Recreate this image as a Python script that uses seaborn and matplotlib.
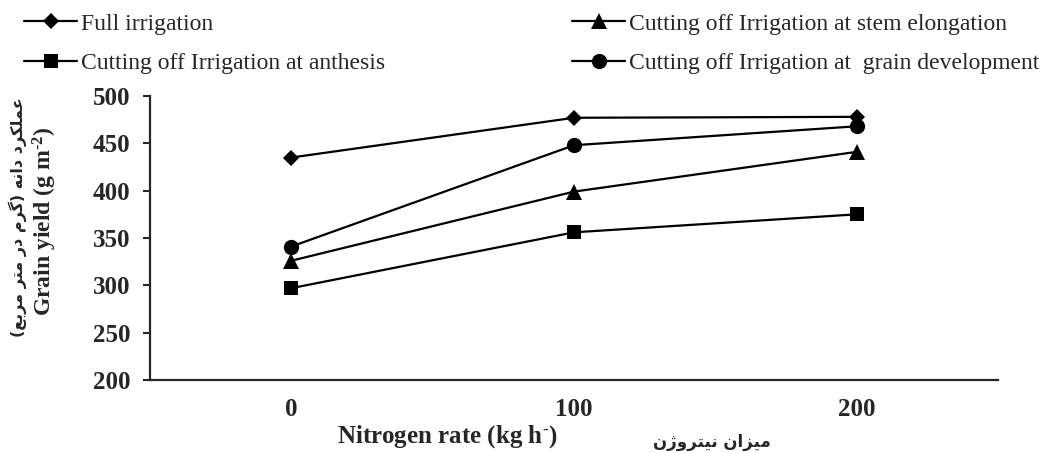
"""
grain yield vs nitrogen rate under four irrigation treatments
"""
import matplotlib
matplotlib.use('Agg')
import matplotlib.pyplot as plt
import seaborn as sns

# ---- data ----
nitrogen_rates = [0, 100, 200]
x_tick_labels = ['0', '100', '200']
y_ticks = [200, 250, 300, 350, 400, 450, 500]

full_irrigation = [435, 477, 478]
cut_anthesis = [297, 356, 375]
cut_stem_elongation = [326, 399, 441]
cut_grain_development = [341, 448, 468]

label_full = 'Full irrigation'
label_anthesis = 'Cutting off Irrigation at anthesis'
label_stem = 'Cutting off Irrigation at stem elongation'
label_grain = 'Cutting off Irrigation at  grain development'

ylabel_fa = 'عملکرد دانه (گرم در متر مربع)'
xlabel_fa = 'میزان نیتروژن'

# isolated, final, initial, medial presentation forms for the letters used
ARABIC_FORMS = {
    '\u0639': '\uFEC9\uFECA\uFECB\uFECC',  # ain
    '\u0645': '\uFEE1\uFEE2\uFEE3\uFEE4',  # meem
    '\u0644': '\uFEDD\uFEDE\uFEDF\uFEE0',  # lam
    '\u06A9': '\uFB8E\uFB8F\uFB90\uFB91',  # keheh
    '\u0643': '\uFED9\uFEDA\uFEDB\uFEDC',  # arabic kaf
    '\u0631': '\uFEAD\uFEAE',  # reh
    '\u062F': '\uFEA9\uFEAA',  # dal
    '\u0627': '\uFE8D\uFE8E',  # alef
    '\u0646': '\uFEE5\uFEE6\uFEE7\uFEE8',  # noon
    '\u0647': '\uFEE9\uFEEA\uFEEB\uFEEC',  # heh
    '\u06AF': '\uFB92\uFB93\uFB94\uFB95',  # gaf
    '\u062A': '\uFE95\uFE96\uFE97\uFE98',  # teh
    '\u0628': '\uFE8F\uFE90\uFE91\uFE92',  # beh
    '\u06CC': '\uFBFC\uFBFD\uFBFE\uFBFF',  # farsi yeh
    '\u064A': '\uFEF1\uFEF2\uFEF3\uFEF4',  # arabic yeh
    '\u0632': '\uFEAF\uFEB0',  # zain
    '\u0648': '\uFEED\uFEEE',  # waw
    '\u0698': '\uFB8A\uFB8B',  # jeh
}


def shape_fa(text):
    """join the letters and put them in visual (left to right) order,
    matplotlib does no arabic shaping by itself"""
    out = []
    for i, ch in enumerate(text):
        forms = ARABIC_FORMS.get(ch)
        if forms is None:
            out.append(ch)
            continue
        prev = text[i - 1] if i > 0 else ''
        nxt = text[i + 1] if i + 1 < len(text) else ''
        join_prev = len(ARABIC_FORMS.get(prev, '')) == 4
        join_next = len(forms) == 4 and nxt in ARABIC_FORMS
        idx = {(False, False): 0, (True, False): 1,
               (False, True): 2, (True, True): 3}[(join_prev, join_next)]
        out.append(forms[idx])
    mirror = {'(': ')', ')': '('}
    return ''.join(mirror.get(c, c) for c in reversed(out))


sns.set_style('ticks')
plt.rcParams['font.family'] = ['Liberation Serif', 'DejaVu Serif']
plt.rcParams['mathtext.fontset'] = 'custom'
plt.rcParams['mathtext.rm'] = 'Liberation Serif:bold'
plt.rcParams['mathtext.bf'] = 'Liberation Serif:bold'
plt.rcParams['mathtext.it'] = 'Liberation Serif:bold'

fig = plt.figure(figsize=(10.48, 4.53), dpi=100)
ax = fig.add_axes([150 / 1048, 1 - 380 / 453, 848 / 1048, 284 / 453])

series = [
    (full_irrigation, 'D', 8.5, label_full),
    (cut_anthesis, 's', 10.5, label_anthesis),
    (cut_stem_elongation, '^', 11, label_stem),
    (cut_grain_development, 'o', 11, label_grain),
]
handles = {}
for values, marker, msize, label in series:
    sns.lineplot(x=nitrogen_rates, y=values, ax=ax, color='black',
                 linewidth=1.6, marker=marker, markersize=msize,
                 markeredgewidth=0, label=label, legend=False)
    handles[label] = ax.get_lines()[-1]

ax.set_xlim(-50, 250)
ax.set_ylim(200, 500)
ax.set_xticks(nitrogen_rates)
ax.set_xticklabels(x_tick_labels)
ax.set_yticks(y_ticks)
ax.tick_params(axis='x', length=0, pad=13, labelsize=18)
ax.tick_params(axis='y', length=5, width=1.5, pad=9, labelsize=18,
               direction='out')
for lab in ax.get_xticklabels() + ax.get_yticklabels():
    lab.set_fontweight('bold')
sns.despine(ax=ax)
for side in ('left', 'bottom'):
    ax.spines[side].set_linewidth(1.6)
ax.set_xlabel('')
ax.set_ylabel('')

# axis titles, english and persian
fig.text(45 / 1048, 1 - 221 / 453, 'Grain yield (g m$^{\\mathbf{\u2010 2}}$)',
         rotation=90, ha='center', va='center', fontsize=17,
         fontweight='bold')
fig.text(18 / 1048, 1 - 217 / 453, shape_fa(ylabel_fa), rotation=90,
         ha='center', va='center', fontsize=11.5, fontweight='bold',
         family=['DejaVu Sans', 'Noto Sans'])
fig.text(447 / 1048, 1 - 437 / 453, 'Nitrogen rate (kg h$^{\\mathbf{\u2010}}$)',
         ha='center', va='center', fontsize=18, fontweight='bold')
fig.text(712 / 1048, 1 - 442 / 453, shape_fa(xlabel_fa), ha='center',
         va='center', fontsize=12, fontweight='bold',
         family=['DejaVu Sans', 'Noto Sans'])

# legend in two blocks across the top
legend_kw = dict(loc='upper left', frameon=False, fontsize=17,
                 handlelength=2.25, handletextpad=0.15, borderpad=0,
                 borderaxespad=0, labelspacing=0.75)
fig.legend(handles=[handles[label_full], handles[label_anthesis]],
           labels=[label_full, label_anthesis],
           bbox_to_anchor=(24 / 1048, 1 - 13 / 453), **legend_kw)
fig.legend(handles=[handles[label_stem], handles[label_grain]],
           labels=[label_stem, label_grain],
           bbox_to_anchor=(572 / 1048, 1 - 13 / 453), **legend_kw)

fig.savefig('out.png', dpi=100)
